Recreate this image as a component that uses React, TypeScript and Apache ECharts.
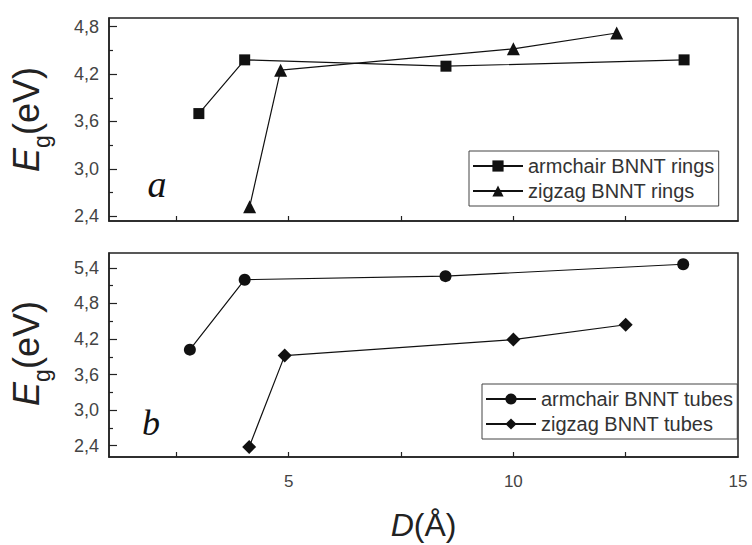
import React, { useEffect, useRef } from 'react';
import * as echarts from 'echarts';

// Panel a: BNNT rings
const ringsArmD = [3.0, 4.02, 8.5, 13.8];
const ringsArmEg = [3.70, 4.38, 4.30, 4.38];
const ringsZigD = [4.13, 4.82, 10.0, 12.3];
const ringsZigEg = [2.52, 4.25, 4.52, 4.72];

// Panel b: BNNT tubes
const tubesArmD = [2.8, 4.02, 8.49, 13.78];
const tubesArmEg = [4.02, 5.20, 5.26, 5.46];
const tubesZigD = [4.12, 4.91, 10.0, 12.5];
const tubesZigEg = [2.38, 3.92, 4.19, 4.44];

// Ticks
const xTicks = [2.5, 5, 7.5, 10, 12.5];
const xLabels = [5, 10, 15];
const yTopMajor = [2.4, 3.0, 3.6, 4.2, 4.8];
const yTopMinor = [2.7, 3.3, 3.9, 4.5];
const yBotMajor = [2.4, 3.0, 3.6, 4.2, 4.8, 5.4];
const yBotMinor = [2.7, 3.3, 3.9, 4.5, 5.1];

const pairs = (xs: number[], ys: number[]) => xs.map((x, i) => [x, ys[i]]);
const comma = (v: number) => v.toFixed(1).replace('.', ',');

const SANS = '"Liberation Sans", Arial, sans-serif';
const AX = '#222';

export default function App() {
  const ref = useRef<HTMLDivElement>(null);
  useEffect(() => {
    document.body.style.margin = '0';
    const chart = echarts.init(ref.current!, null, { renderer: 'svg' });

    const majorY = (gridIndex: number, min: number, max: number, ticks: number[]) => ({
      type: 'value', gridIndex, min, max, position: 'left',
      axisLine: { show: true, lineStyle: { color: AX, width: 1.5 } },
      axisTick: { show: true, inside: true, length: 8, customValues: ticks, lineStyle: { color: AX, width: 1.2 } },
      axisLabel: { show: true, customValues: ticks, formatter: comma, fontSize: 18, color: '#444', fontFamily: SANS, margin: 10 },
      splitLine: { show: false },
    });
    const minorY = (gridIndex: number, min: number, max: number, ticks: number[]) => ({
      type: 'value', gridIndex, min, max, position: 'left',
      axisLine: { show: false },
      axisTick: { show: true, inside: true, length: 4, customValues: ticks, lineStyle: { color: AX, width: 1.2 } },
      axisLabel: { show: false },
      splitLine: { show: false },
    });
    const xAx = (gridIndex: number, labels: boolean) => ({
      type: 'value', gridIndex, min: 1, max: 15,
      axisLine: { show: true, lineStyle: { color: AX, width: 1.5 } },
      axisTick: { show: true, inside: true, length: 5, customValues: xTicks, lineStyle: { color: AX, width: 1.2 } },
      axisLabel: { show: labels, customValues: xLabels, fontSize: 17, color: '#444', fontFamily: SANS, margin: 16 },
      splitLine: { show: false },
      ...(labels ? {
        name: '{d|D}{r|(Å)}',
        nameLocation: 'middle',
        nameGap: 52,
        nameTextStyle: {
          rich: {
            d: { fontSize: 32, fontStyle: 'italic', fontFamily: SANS, color: AX },
            r: { fontSize: 32, fontFamily: SANS, color: AX },
          },
        },
      } : {}),
    });

    const line = (name: string, xi: number, yi: number, data: number[][], symbol: string, size: number) => ({
      name, type: 'line', xAxisIndex: xi, yAxisIndex: yi, data,
      symbol, symbolSize: size,
      lineStyle: { color: '#111', width: 1.2 },
      itemStyle: { color: '#111' },
      showSymbol: true,
    });

    const legendBase = {
      orient: 'vertical',
      borderColor: '#444',
      borderWidth: 1,
      padding: [5, 4, 5, 3],
      itemGap: 5,
      itemWidth: 50,
      itemHeight: 14,
      selectedMode: false,
      textStyle: { fontSize: 20, color: '#333', fontFamily: SANS },
    };

    // rotated y-axis title E_g(eV), baseline at x = 39
    const yTitle = (cy: number) => ({
      type: 'group', x: 39, y: cy + 52, rotation: Math.PI / 2,
      children: [
        { type: 'text', x: 0, y: -12.5, style: { text: 'E', font: `italic 36px ${SANS}`, fill: AX, align: 'left', verticalAlign: 'middle' } },
        { type: 'text', x: 24, y: 3, style: { text: 'g', font: `23px ${SANS}`, fill: AX, align: 'left', verticalAlign: 'middle' } },
        { type: 'text', x: 37, y: -12.5, style: { text: '(eV)', font: `36px ${SANS}`, fill: AX, align: 'left', verticalAlign: 'middle' } },
      ],
    });

    chart.setOption({
      animation: false,
      backgroundColor: '#fff',
      grid: [
        { left: 109, top: 18, width: 629, height: 203, show: true, borderColor: AX, borderWidth: 1.5, containLabel: false },
        { left: 109, top: 253, width: 629, height: 204, show: true, borderColor: AX, borderWidth: 1.5, containLabel: false },
      ],
      xAxis: [xAx(0, false), xAx(1, true)],
      yAxis: [
        majorY(0, 2.34, 4.91, yTopMajor),
        minorY(0, 2.34, 4.91, yTopMinor),
        majorY(1, 2.21, 5.65, yBotMajor),
        minorY(1, 2.21, 5.65, yBotMinor),
      ],
      legend: [
        { ...legendBase, left: 469, top: 151, data: ['armchair BNNT rings', 'zigzag BNNT rings'] },
        { ...legendBase, left: 482, top: 384, data: ['armchair BNNT tubes', 'zigzag BNNT tubes'] },
      ],
      series: [
        line('armchair BNNT rings', 0, 0, pairs(ringsArmD, ringsArmEg), 'rect', 11),
        line('zigzag BNNT rings', 0, 0, pairs(ringsZigD, ringsZigEg), 'triangle', 13),
        line('armchair BNNT tubes', 1, 2, pairs(tubesArmD, tubesArmEg), 'circle', 12),
        line('zigzag BNNT tubes', 1, 2, pairs(tubesZigD, tubesZigEg), 'diamond', 14),
      ],
      graphic: [
        yTitle(120),
        yTitle(354),
        { type: 'text', x: 157, y: 184, style: { text: 'a', font: 'italic 38px "Liberation Serif", serif', fill: '#111', align: 'center', verticalAlign: 'middle' } },
        { type: 'text', x: 151, y: 423, style: { text: 'b', font: 'italic 36px "Liberation Serif", serif', fill: '#111', align: 'center', verticalAlign: 'middle' } },
      ],
    });
    return () => chart.dispose();
  }, []);
  return <div ref={ref} style={{ width: 752, height: 545 }} />;
}
